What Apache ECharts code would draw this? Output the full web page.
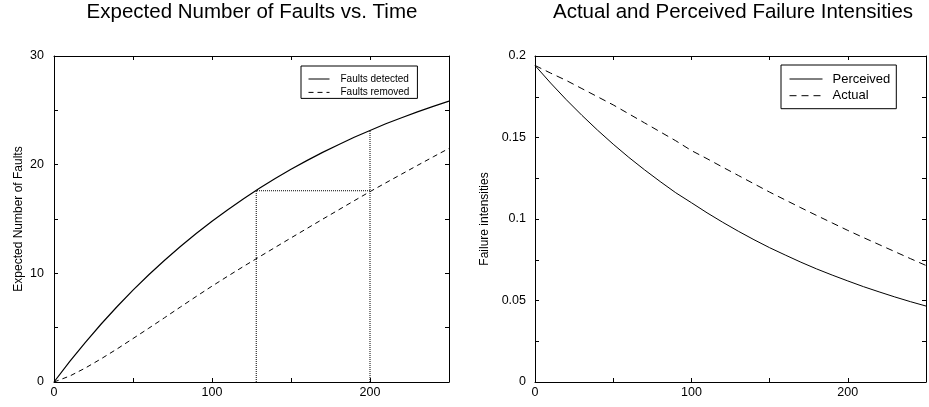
<!DOCTYPE html>
<html>
<head>
<meta charset="utf-8">
<script src="https://cdn.jsdelivr.net/npm/echarts@6/dist/echarts.min.js"></script>
<style>
html,body{margin:0;padding:0;background:#fff;}
#chart{width:929px;height:407px;}
</style>
</head>
<body>
<div id="chart"></div>
<script>
// ---- data ----
var timeValues = [0,10,20,30,40,50,60,70,80,90,100,110,120,130,140,150,160,170,180,190,200,210,220,230,240,250];
var faultsDetected = [0,1.89,3.67,5.36,6.95,8.45,9.87,11.21,12.47,13.67,14.80,15.86,16.87,17.82,18.72,19.57,20.37,21.13,21.84,22.52,23.15,23.76,24.32,24.86,25.37,25.85];
var faultsRemoved = [0,0.55,1.3,2.15,3.05,4.0,4.95,5.92,6.9,7.87,8.82,9.74,10.64,11.52,12.39,13.26,14.12,14.98,15.83,16.68,17.52,18.33,19.13,19.93,20.72,21.5];
var perceivedIntensity = [0.1942,0.1834,0.1732,0.1636,0.1545,0.1459,0.1378,0.1302,0.1230,0.1161,0.1100,0.1038,0.0980,0.0925,0.0873,0.0824,0.0779,0.0735,0.0694,0.0656,0.0620,0.0585,0.0553,0.0522,0.0493,0.0466];
var actualIntensity = [0.1942,0.1895,0.185,0.180,0.175,0.170,0.1645,0.159,0.1535,0.148,0.142,0.137,0.1318,0.1267,0.1216,0.1165,0.1117,0.1069,0.1022,0.0976,0.093,0.0886,0.0843,0.0800,0.0757,0.0715];
// guide lines: detected at t=128 equals removed at t=200
var guideTimes = [128, 200];
var guideLevel = [17.6, 23.15];

var leftTitle = 'Expected Number of Faults vs. Time';
var rightTitle = 'Actual and Perceived Failure Intensities';
var leftYName = 'Expected Number of Faults';
var rightYName = 'Failure intensities';
var leftLegend = ['Faults detected', 'Faults removed'];
var rightLegend = ['Perceived', 'Actual'];

function pairs(xs, ys){ return xs.map(function(x,i){ return [x, ys[i]]; }); }

var FONT = 'Liberation Sans, Arial, Helvetica, sans-serif';
var chart = echarts.init(document.getElementById('chart'), null, {renderer:'canvas'});

function xAxisBottom(gi){
  return {type:'value', gridIndex:gi, position:'bottom', min:0, max:250, interval:50,
    axisLine:{show:true, onZero:false, lineStyle:{color:'#000', width:1}},
    axisTick:{show:true, inside:true, length:4, lineStyle:{color:'#000'}},
    splitLine:{show:false},
    axisLabel:{color:'#000', fontSize:12.5, fontFamily:FONT, margin:4,
      formatter:function(v){ return (v%100===0 && v<250) ? String(v) : ''; }}};
}
function xAxisTop(gi){
  return {type:'value', gridIndex:gi, position:'top', min:0, max:250, interval:50,
    axisLine:{show:true, onZero:false, lineStyle:{color:'#000', width:1}},
    axisTick:{show:true, inside:true, length:4, lineStyle:{color:'#000'}},
    splitLine:{show:false}, axisLabel:{show:false}};
}

var option = {
  animation:false,
  backgroundColor:'#fff',
  textStyle:{fontFamily:FONT},
  title:[
    {text:leftTitle, left:252, top:2, padding:0, textAlign:'center',
     textStyle:{fontSize:20.5, fontWeight:'normal', color:'#000', fontFamily:FONT}},
    {text:rightTitle, left:733, top:2, padding:0, textAlign:'center',
     textStyle:{fontSize:20.5, fontWeight:'normal', color:'#000', fontFamily:FONT}}
  ],
  grid:[
    {left:54, top:56, width:395, height:326},
    {left:535, top:56, width:395, height:326}
  ],
  legend:[
    {data:leftLegend, orient:'vertical', left:301, top:66,
     itemWidth:21, itemHeight:12, itemGap:1.4, padding:[7,8,0,7],
     borderColor:'#000', borderWidth:1, itemStyle:{opacity:0}, lineStyle:{width:1},
     textStyle:{fontSize:10, color:'#000', fontFamily:FONT, padding:[0,0,0,6], lineHeight:12}},
    {data:rightLegend, orient:'vertical', left:781, top:65,
     itemWidth:33, itemHeight:14, itemGap:2.7, padding:[7,6,6,8],
     borderColor:'#000', borderWidth:1, itemStyle:{opacity:0}, lineStyle:{width:1},
     textStyle:{fontSize:13, color:'#000', fontFamily:FONT, padding:[0,0,0,5], lineHeight:14}}
  ],
  xAxis:[xAxisBottom(0), xAxisTop(0), xAxisBottom(1), xAxisTop(1)],
  yAxis:[
    {type:'value', gridIndex:0, position:'left', min:0, max:30, interval:5,
     name:leftYName, nameLocation:'middle', nameGap:29, nameRotate:90,
     nameTextStyle:{fontSize:12, color:'#000', fontFamily:FONT},
     axisLine:{show:true, onZero:false, lineStyle:{color:'#000', width:1}},
     axisTick:{show:true, inside:true, length:4, lineStyle:{color:'#000'}},
     splitLine:{show:false},
     axisLabel:{color:'#000', fontSize:12.5, fontFamily:FONT, margin:10,
       formatter:function(v){ return v%10===0 ? String(v) : ''; }}},
    {type:'value', gridIndex:0, position:'right', min:0, max:30, interval:5,
     axisLine:{show:true, onZero:false, lineStyle:{color:'#000', width:1}},
     axisTick:{show:true, inside:true, length:4, lineStyle:{color:'#000'}},
     splitLine:{show:false}, axisLabel:{show:false}},
    {type:'value', gridIndex:1, position:'left', min:0, max:0.2, interval:0.025,
     name:rightYName, nameLocation:'middle', nameGap:44, nameRotate:90,
     nameTextStyle:{fontSize:12, color:'#000', fontFamily:FONT},
     axisLine:{show:true, onZero:false, lineStyle:{color:'#000', width:1}},
     axisTick:{show:true, inside:true, length:4, lineStyle:{color:'#000'}},
     splitLine:{show:false},
     axisLabel:{color:'#000', fontSize:12.5, fontFamily:FONT, margin:9,
       formatter:function(v){ var k=Math.round(v*1000); if(k%50!==0) return ''; return k===0?'0':String(+(v.toFixed(3))); }}},
    {type:'value', gridIndex:1, position:'right', min:0, max:0.2, interval:0.025,
     axisLine:{show:true, onZero:false, lineStyle:{color:'#000', width:1}},
     axisTick:{show:true, inside:true, length:4, lineStyle:{color:'#000'}},
     splitLine:{show:false}, axisLabel:{show:false}}
  ],
  series:[
    {name:leftLegend[0], type:'line', xAxisIndex:0, yAxisIndex:0, data:pairs(timeValues, faultsDetected),
     symbol:'none', smooth:false, lineStyle:{color:'#000', width:1.2, type:'solid'}, itemStyle:{color:'#000'}},
    {name:leftLegend[1], type:'line', xAxisIndex:0, yAxisIndex:0, data:pairs(timeValues, faultsRemoved),
     symbol:'none', smooth:false, lineStyle:{color:'#000', width:1, type:[5,4]}, itemStyle:{color:'#000'}},
    {name:'guide1', type:'line', xAxisIndex:0, yAxisIndex:0,
     data:[[guideTimes[0],0],[guideTimes[0],guideLevel[0]],[guideTimes[1],guideLevel[0]]],
     symbol:'none', lineStyle:{color:'#000', width:1, type:[1,1]}, silent:true},
    {name:'guide2', type:'line', xAxisIndex:0, yAxisIndex:0,
     data:[[guideTimes[1],0],[guideTimes[1],guideLevel[1]]],
     symbol:'none', lineStyle:{color:'#000', width:1, type:[1,1]}, silent:true},
    {name:rightLegend[0], type:'line', xAxisIndex:2, yAxisIndex:2, data:pairs(timeValues, perceivedIntensity),
     symbol:'none', smooth:false, lineStyle:{color:'#000', width:1, type:'solid'}, itemStyle:{color:'#000'}},
    {name:rightLegend[1], type:'line', xAxisIndex:2, yAxisIndex:2, data:pairs(timeValues, actualIntensity),
     symbol:'none', smooth:false, lineStyle:{color:'#000', width:1, type:[7,5]}, itemStyle:{color:'#000'}}
  ]
};
chart.setOption(option);
</script>
</body>
</html>
